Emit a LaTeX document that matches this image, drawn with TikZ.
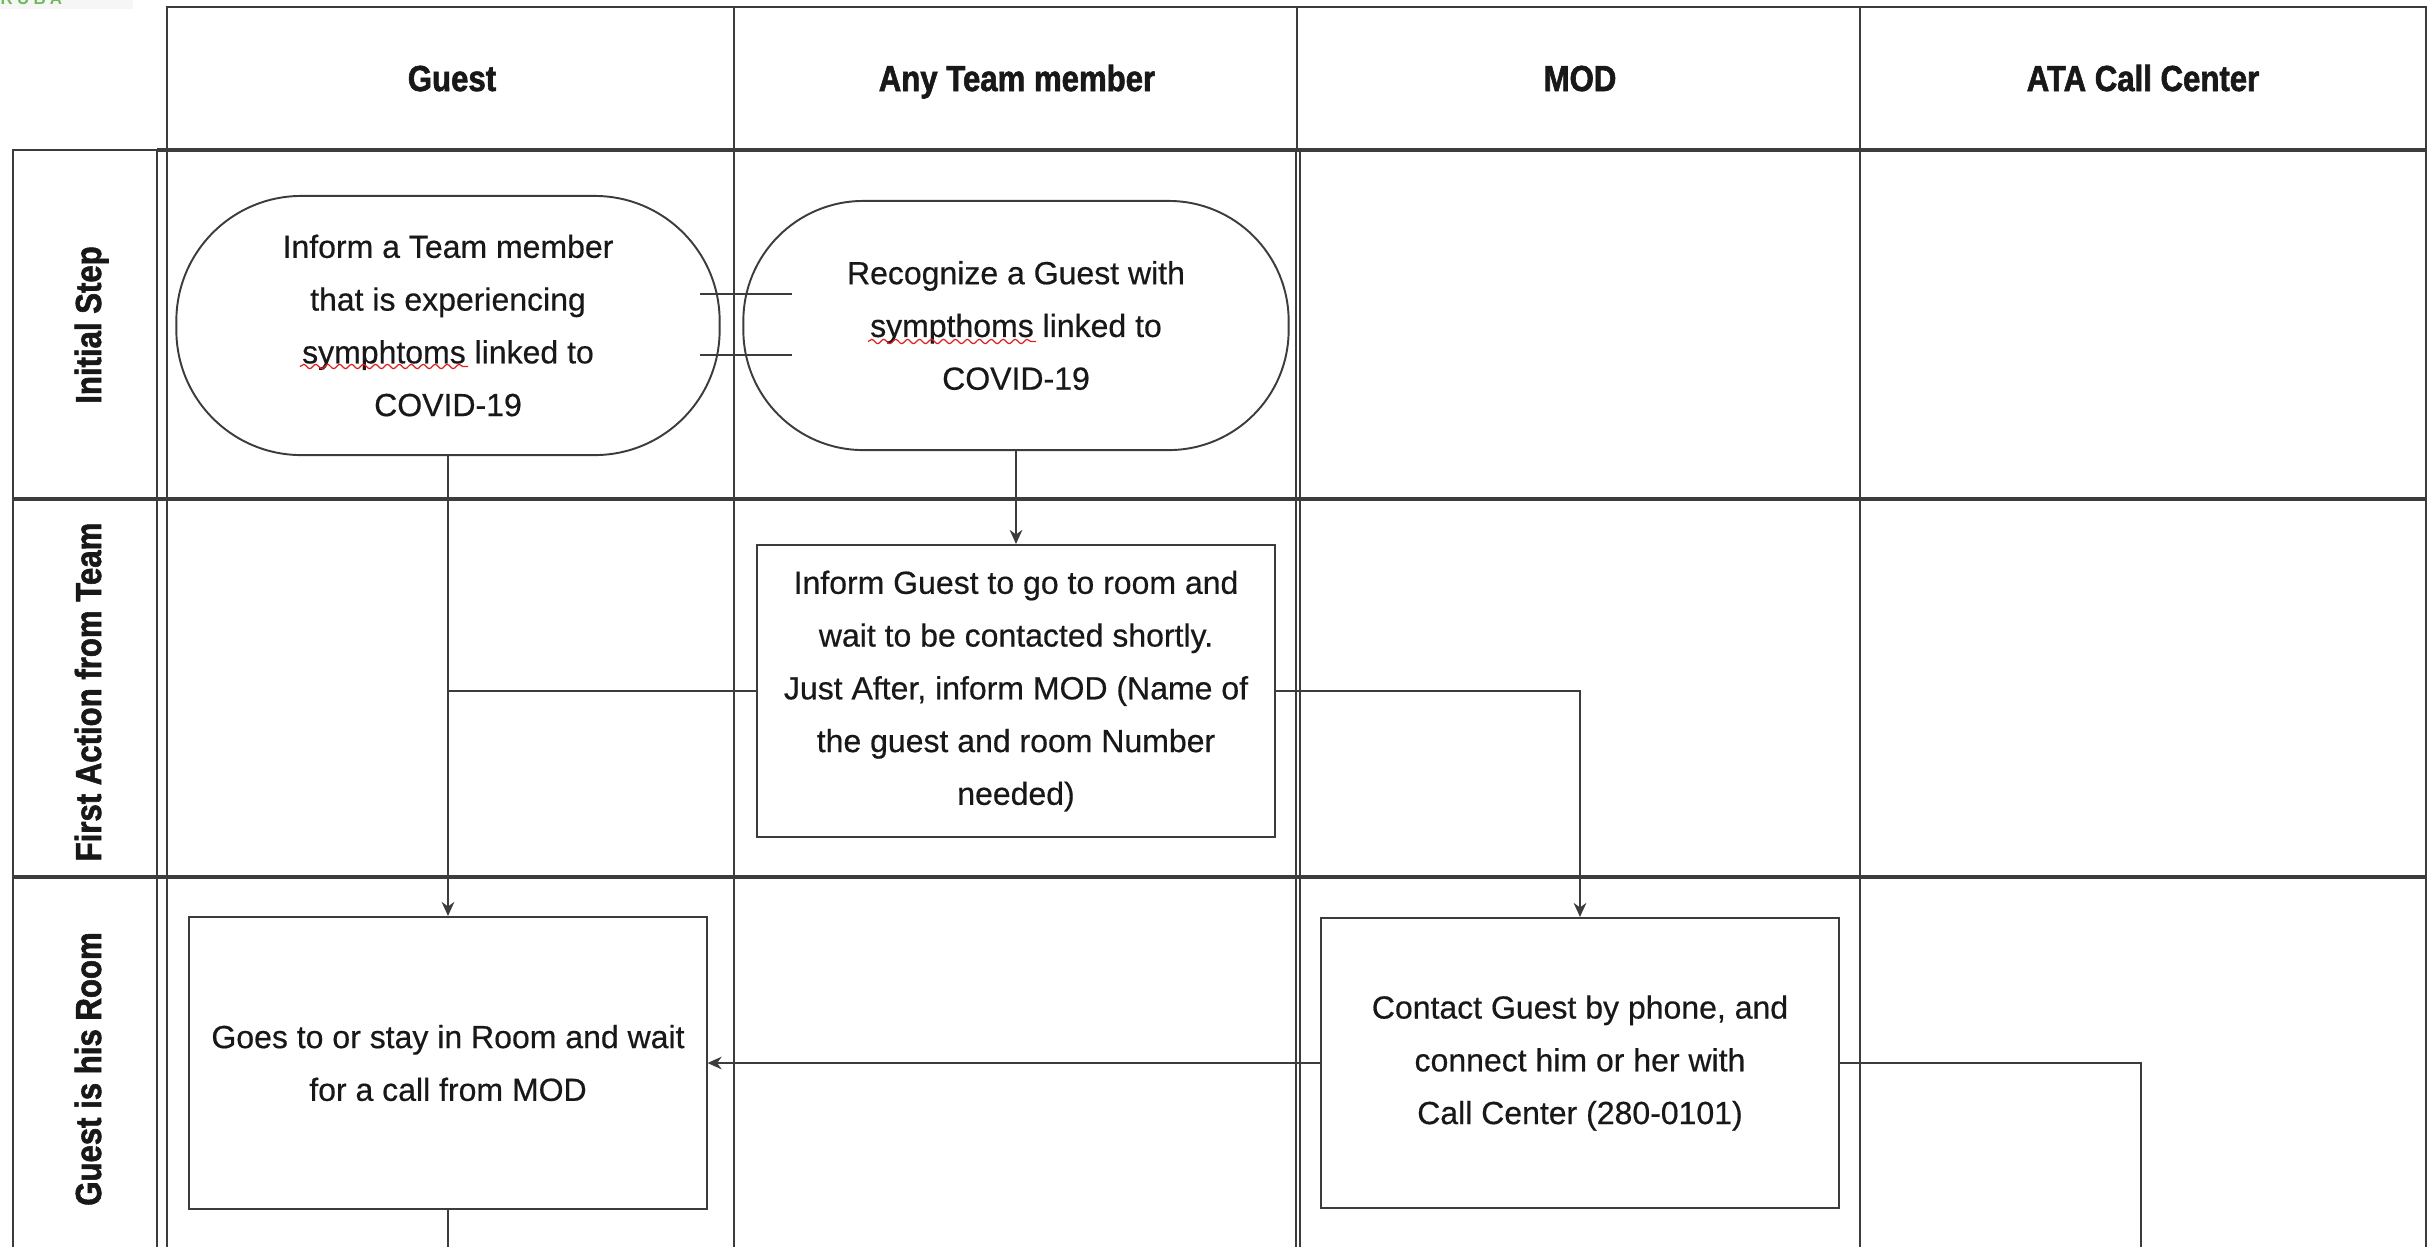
\documentclass[tikz,border=0pt]{standalone}
\usepackage{fontspec}
\setmainfont[FakeBold=0.5]{Liberation Sans}
\newfontfamily\headfont[FakeStretch=0.86, BoldFeatures={FakeBold=1.6}]{Liberation Sans}
\newfontfamily\logofont[LetterSpace=25]{Liberation Sans}
\usetikzlibrary{arrows.meta,positioning,calc,decorations.pathmorphing}
\definecolor{ln}{RGB}{60,60,60}
\definecolor{txt}{RGB}{24,24,24}
\definecolor{spell}{RGB}{222,32,32}
\definecolor{logo}{RGB}{112,186,92}
\definecolor{logobg}{RGB}{246,246,246}
\tikzset{
  every picture/.style={line join=miter, >={Stealth[length=4pt,width=3.6pt]}},
  % Linien
  lanegrid/.style={ln, line width=0.7pt},
  rowsep/.style={ln, line width=1.1pt},
  conn/.style={ln, line width=0.55pt},
  flow/.style={conn, ->},
  % Rechtschreib-Wellenlinie
  spellwave/.style={spell, line width=0.35pt, decorate,
    decoration={snake, segment length=3.4pt, amplitude=0.6pt}},
  % Beschriftung
  colhead/.style={text=txt, inner sep=0pt, anchor=base, font=\headfont\bfseries\fontsize{10.3}{12}\selectfont},
  rowhead/.style={colhead, rotate=90},
  % Kästen
  stepbox/.style={draw=ln, line width=0.55pt, align=center, inner sep=0pt, text=txt,
    font=\fontsize{9.1}{15}\selectfont},
  terminal/.style={stepbox, rounded corners=#1},
}

\begin{document}
\begin{tikzpicture}[x=0.01cm, y=-0.01cm]
  \useasboundingbox (0,0) rectangle (2432,1247);
  % Logo oben links (abgeschnitten)
  \fill[logobg] (0,0) rectangle (133,9);
  \node[anchor=base west, inner sep=0pt, text=logo, font=\logofont\bfseries\fontsize{4.8}{5}\selectfont] (logo) at (0,4.5) {RUBA};
  % Kopfzeile
  \draw[lanegrid] (167,7) rectangle (2426,150);
  \foreach \x in {734,1297,1860} \draw[lanegrid] (\x,7) -- (\x,150);
  \node[colhead] (hguest) at (452,91) {Guest};
  \node[colhead] (hteam) at (1017,91) {Any Team member};
  \node[colhead] (hmod) at (1580,91) {MOD};
  \node[colhead] (hcall) at (2143,91) {ATA Call Center};
  % Bahnen
  \draw[lanegrid] (13,1247) -- (13,150) -- (157,150) -- (157,1247);
  \draw[lanegrid] (167,150) -- (167,1247) (2426,150) -- (2426,1247);
  \foreach \x in {734,1296,1300,1860} \draw[lanegrid] (\x,150) -- (\x,1247);
  \draw[rowsep] (157,150) -- (2426,150);
  \foreach \y in {499,877} \draw[rowsep] (13,\y) -- (2426,\y);
  \node[rowhead] (rinit) at (101,325) {Initial Step};
  \node[rowhead] (rfirst) at (101,692) {First Action from Team};
  \node[rowhead] (rroom) at (101,1069) {Guest is his Room};
  % Schritte
  \node[terminal=1.25cm, minimum width=5.43cm, minimum height=2.59cm] (report) at (448,325.5)
    {Inform a Team member\\that is experiencing\\symphtoms linked to\\COVID-19};
  \node[terminal=1.2cm, minimum width=5.45cm, minimum height=2.49cm] (spot) at (1016,325.5)
    {Recognize a Guest with\\sympthoms linked to\\COVID-19};
  \node[stepbox, minimum width=5.18cm, minimum height=2.92cm] (tell) at (1016,691)
    {Inform Guest to go to room and\\wait to be contacted shortly.\\Just After, inform MOD (Name of\\the guest and room Number\\needed)};
  \node[stepbox, minimum width=5.17cm, minimum height=2.92cm] (wait) at (448,1063)
    {Goes to or stay in Room and wait\\for a call from MOD};
  \node[stepbox, minimum width=5.17cm, minimum height=2.90cm] (contact) at (1580,1063)
    {Contact Guest by phone, and\\connect him or her with\\Call Center (280-0101)};
  \coordinate (outl) at (448,1247);
  \coordinate (outr) at (2141,1247);
  % Wellenlinien unter den Tippfehlern
  \draw[spellwave] ($(report.center)+(-148,41)$) -- +(168,0);
  \draw[spellwave] ($(spot.center)+(-148,16)$) -- +(168,0);
  % Verbindungen
  \draw[conn] (700,294) -- (792,294) (700,355) -- (792,355);
  \draw[flow] (report.south) -- (wait.north);
  \draw[flow] (spot.south) -- (tell.north);
  \draw[conn] (tell.west) -- (tell.west -| report.south);
  \draw[flow] (tell.east) -| (contact.north);
  \draw[flow] (contact.west) -- (wait.east);
  \draw[conn] (contact.east) -| (outr);
  \draw[conn] (wait.south) -- (outl);
\end{tikzpicture}
\end{document}
